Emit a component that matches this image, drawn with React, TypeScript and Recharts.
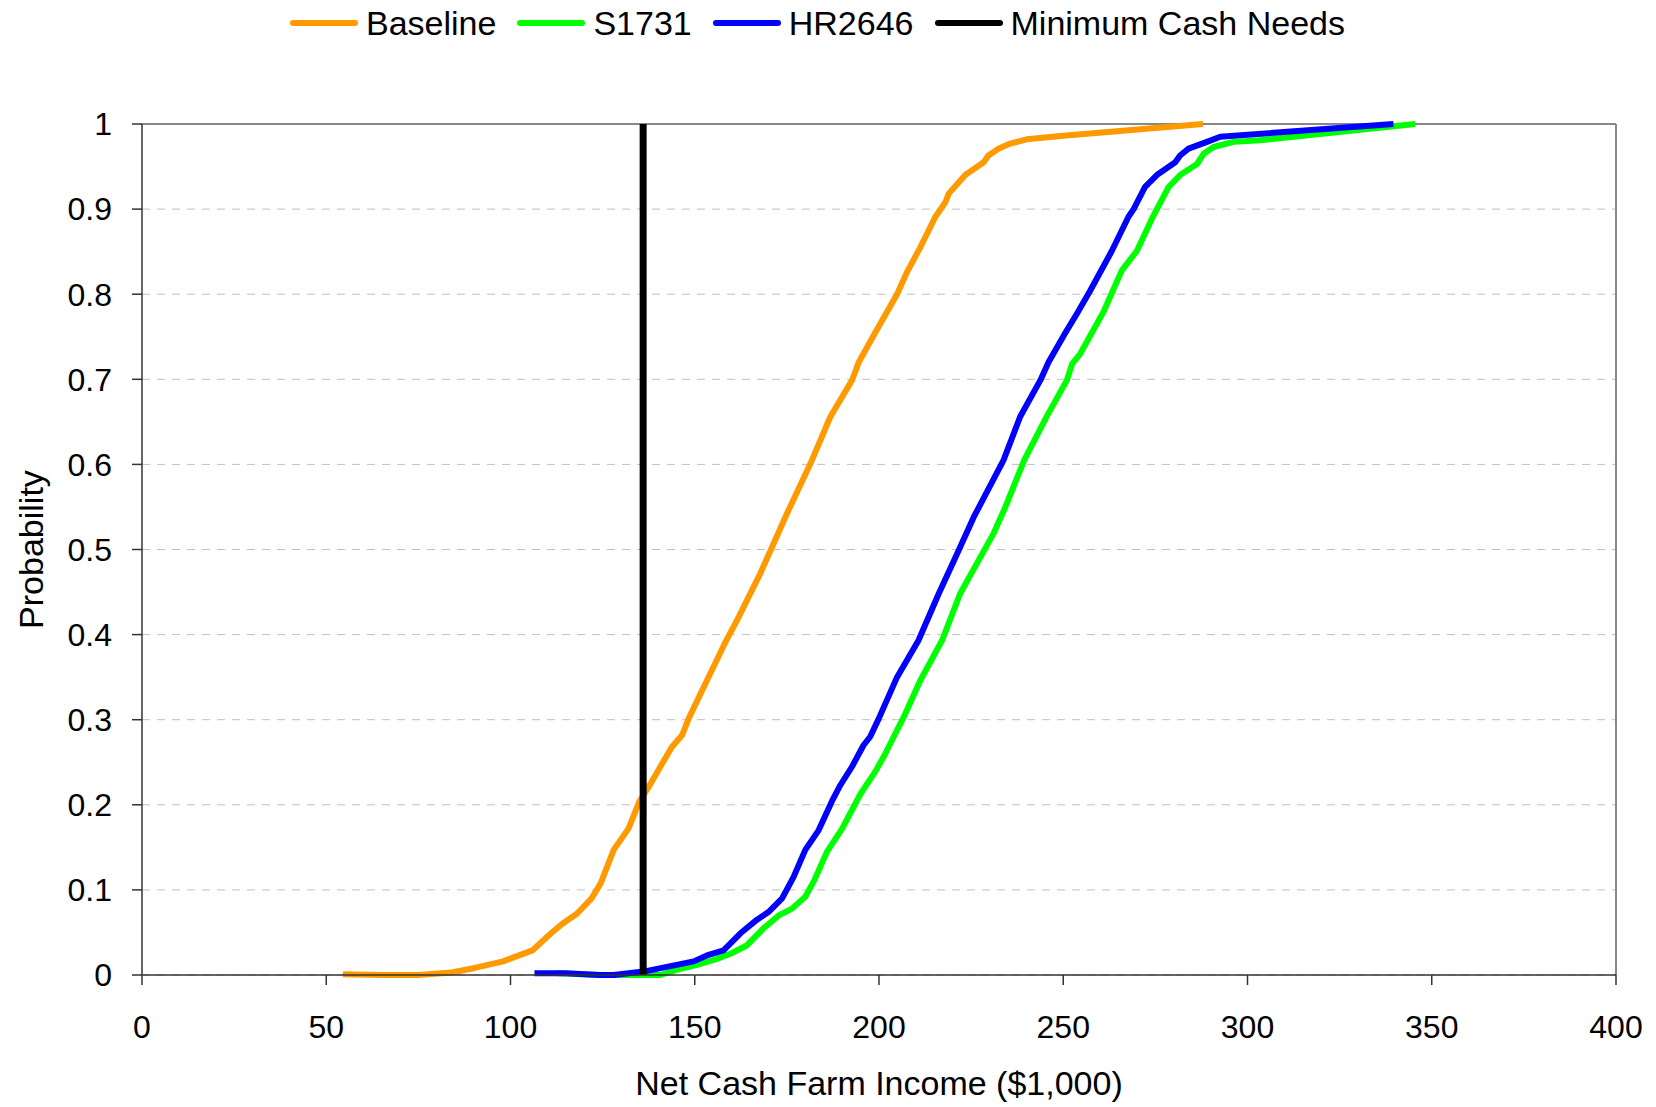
import React from "react";
import {
  LineChart,
  Line,
  XAxis,
  YAxis,
  CartesianGrid,
  ReferenceLine,
} from "recharts";

// CDF points: x = net cash farm income ($1,000), p = probability
const baseline = [
  { x: 54.5, p: 0.001 }, { x: 65, p: 0 }, { x: 75, p: 0 }, { x: 84, p: 0.003 },
  { x: 90, p: 0.008 }, { x: 98, p: 0.016 }, { x: 101, p: 0.021 }, { x: 106, p: 0.029 },
  { x: 111, p: 0.049 }, { x: 114, p: 0.06 }, { x: 118, p: 0.072 }, { x: 122, p: 0.09 },
  { x: 124.5, p: 0.108 }, { x: 128, p: 0.147 }, { x: 132, p: 0.172 }, { x: 135, p: 0.204 },
  { x: 137.5, p: 0.221 }, { x: 140.7, p: 0.245 }, { x: 143.8, p: 0.268 }, { x: 146.6, p: 0.282 },
  { x: 148.3, p: 0.301 }, { x: 153.3, p: 0.346 }, { x: 158.3, p: 0.391 }, { x: 161.5, p: 0.417 },
  { x: 167.8, p: 0.472 }, { x: 175, p: 0.542 }, { x: 181.4, p: 0.601 }, { x: 186.8, p: 0.656 },
  { x: 192.7, p: 0.699 }, { x: 194.5, p: 0.72 }, { x: 199, p: 0.755 }, { x: 204.9, p: 0.8 },
  { x: 207.6, p: 0.826 }, { x: 211.2, p: 0.855 }, { x: 215.3, p: 0.891 }, { x: 218, p: 0.908 },
  { x: 218.9, p: 0.918 }, { x: 223.4, p: 0.94 }, { x: 228.4, p: 0.955 }, { x: 229.7, p: 0.963 },
  { x: 232.4, p: 0.971 }, { x: 235.6, p: 0.977 }, { x: 240.1, p: 0.982 }, { x: 249.2, p: 0.986 },
  { x: 287.9, p: 1 },
];

const s1731 = [
  { x: 112.6, p: 0.002 }, { x: 125, p: 0 }, { x: 140.7, p: 0 }, { x: 145, p: 0.006 },
  { x: 150.6, p: 0.012 }, { x: 156, p: 0.019 }, { x: 159.7, p: 0.025 }, { x: 164.2, p: 0.035 },
  { x: 168.7, p: 0.055 }, { x: 172.8, p: 0.07 }, { x: 176.4, p: 0.078 }, { x: 180, p: 0.092 },
  { x: 182.3, p: 0.11 }, { x: 185.9, p: 0.145 }, { x: 190, p: 0.172 }, { x: 195, p: 0.213 },
  { x: 199, p: 0.239 }, { x: 201.7, p: 0.26 }, { x: 204, p: 0.28 }, { x: 206.7, p: 0.303 },
  { x: 211.2, p: 0.346 }, { x: 217.1, p: 0.393 }, { x: 222, p: 0.448 }, { x: 231.1, p: 0.519 },
  { x: 234.3, p: 0.55 }, { x: 239.5, p: 0.606 }, { x: 245.6, p: 0.657 }, { x: 251, p: 0.699 },
  { x: 252.4, p: 0.718 }, { x: 254.6, p: 0.73 }, { x: 257.8, p: 0.755 }, { x: 260.9, p: 0.779 },
  { x: 265.9, p: 0.828 }, { x: 270, p: 0.851 }, { x: 274.1, p: 0.889 }, { x: 278.6, p: 0.926 },
  { x: 281.7, p: 0.94 }, { x: 286.3, p: 0.953 }, { x: 288.1, p: 0.965 }, { x: 290.8, p: 0.973 },
  { x: 296.2, p: 0.979 }, { x: 303.4, p: 0.981 }, { x: 345.5, p: 1 },
];

const hr2646 = [
  { x: 106.5, p: 0.002 }, { x: 115, p: 0.002 }, { x: 124, p: 0 }, { x: 128, p: 0 },
  { x: 136.1, p: 0.004 }, { x: 149.7, p: 0.016 }, { x: 153.3, p: 0.023 }, { x: 157.8, p: 0.029 },
  { x: 162.4, p: 0.049 }, { x: 166.9, p: 0.065 }, { x: 170, p: 0.074 }, { x: 173.7, p: 0.09 },
  { x: 176.8, p: 0.115 }, { x: 180, p: 0.147 }, { x: 183.6, p: 0.17 }, { x: 187.2, p: 0.204 },
  { x: 189.5, p: 0.223 }, { x: 192.7, p: 0.245 }, { x: 195.8, p: 0.27 }, { x: 197.6, p: 0.28 },
  { x: 199.9, p: 0.301 }, { x: 204.9, p: 0.35 }, { x: 210.7, p: 0.393 }, { x: 216.2, p: 0.448 },
  { x: 221.2, p: 0.495 }, { x: 225.7, p: 0.538 }, { x: 233.8, p: 0.605 }, { x: 238.3, p: 0.656 },
  { x: 243.8, p: 0.699 }, { x: 246, p: 0.72 }, { x: 250.5, p: 0.754 }, { x: 253.7, p: 0.777 },
  { x: 257.3, p: 0.804 }, { x: 263.2, p: 0.851 }, { x: 267.7, p: 0.891 }, { x: 269.1, p: 0.9 },
  { x: 272.2, p: 0.926 }, { x: 275.4, p: 0.94 }, { x: 280.4, p: 0.955 }, { x: 281.7, p: 0.963 },
  { x: 284, p: 0.971 }, { x: 289, p: 0.979 }, { x: 292.6, p: 0.985 }, { x: 339.6, p: 1 },
];

const minimumCashNeeds = [
  { x: 136, p: 0 },
  { x: 136, p: 1 },
];

const xTicks = [0, 50, 100, 150, 200, 250, 300, 350, 400];
const yTicks = [0, 0.1, 0.2, 0.3, 0.4, 0.5, 0.6, 0.7, 0.8, 0.9, 1];

const legendItems = [
  { name: "Baseline", color: "#FF9900" },
  { name: "S1731", color: "#00FF00" },
  { name: "HR2646", color: "#0000FF" },
  { name: "Minimum Cash Needs", color: "#000000" },
];

const FONT = "'Liberation Sans', Arial, Helvetica, sans-serif";

const ChartLegend = () => (
  <div
    style={{
      position: "absolute",
      top: 0,
      left: 0,
      width: 1656,
      height: 46,
      display: "flex",
      justifyContent: "center",
      alignItems: "center",
      gap: 20,
      paddingRight: 22,
      boxSizing: "border-box",
      fontFamily: FONT,
      fontSize: 34,
      color: "#000",
    }}
  >
    {legendItems.map((item) => (
      <div key={item.name} style={{ display: "flex", alignItems: "center", gap: 7 }}>
        <svg width={70} height={10}>
          <line x1={4} y1={5} x2={66} y2={5} stroke={item.color} strokeWidth={6} strokeLinecap="round" />
        </svg>
        <span style={{ lineHeight: "40px" }}>{item.name}</span>
      </div>
    ))}
  </div>
);

export default function App() {
  return (
    <div style={{ position: "absolute", left: 0, top: 0, width: 1656, height: 1107, background: "#fff" }}>
      <ChartLegend />
      <LineChart
        width={1656}
        height={1107}
        margin={{ top: 124, right: 40, left: 0, bottom: 0 }}
      >
        <CartesianGrid
          horizontal
          vertical={false}
          stroke="#c0c0c0"
          strokeDasharray="8 7"
        />
        <XAxis
          dataKey="x"
          type="number"
          domain={[0, 400]}
          ticks={xTicks}
          height={132}
          tickSize={10}
          tickMargin={30}
          axisLine={{ stroke: "#333", strokeWidth: 1.5 }}
          tickLine={{ stroke: "#333", strokeWidth: 1.5 }}
          tick={{ fill: "#000", fontSize: 32, fontFamily: FONT }}
          allowDuplicatedCategory={false}
          label={{
            value: "Net Cash Farm Income ($1,000)",
            position: "insideBottom",
            offset: 12,
            fill: "#000",
            fontSize: 34,
            fontFamily: FONT,
          }}
        />
        <YAxis
          type="number"
          domain={[0, 1]}
          ticks={yTicks}
          width={142}
          tickSize={10}
          tickMargin={20}
          axisLine={{ stroke: "#333", strokeWidth: 1.5 }}
          tickLine={{ stroke: "#333", strokeWidth: 1.5 }}
          tick={{ fill: "#000", fontSize: 32, fontFamily: FONT }}
          tickFormatter={(v: number) => String(Math.round(v * 10) / 10)}
          label={{
            value: "Probability",
            angle: -90,
            position: "insideLeft",
            offset: 31,
            fill: "#000",
            fontSize: 34,
            fontFamily: FONT,
            style: { textAnchor: "middle" },
          }}
        />
        <ReferenceLine y={1} stroke="#888" strokeWidth={2} />
        <ReferenceLine x={400} stroke="#888" strokeWidth={2} />
        <Line
          data={baseline}
          dataKey="p"
          type="linear"
          stroke="#FF9900"
          strokeWidth={6}
          dot={false}
          strokeLinejoin="round"
          isAnimationActive={false}
        />
        <Line
          data={s1731}
          dataKey="p"
          type="linear"
          stroke="#00FF00"
          strokeWidth={6}
          dot={false}
          strokeLinejoin="round"
          isAnimationActive={false}
        />
        <Line
          data={hr2646}
          dataKey="p"
          type="linear"
          stroke="#0000FF"
          strokeWidth={6}
          dot={false}
          strokeLinejoin="round"
          isAnimationActive={false}
        />
        <Line
          data={minimumCashNeeds}
          dataKey="p"
          type="linear"
          stroke="#000000"
          strokeWidth={7}
          dot={false}
          isAnimationActive={false}
        />
      </LineChart>
    </div>
  );
}
